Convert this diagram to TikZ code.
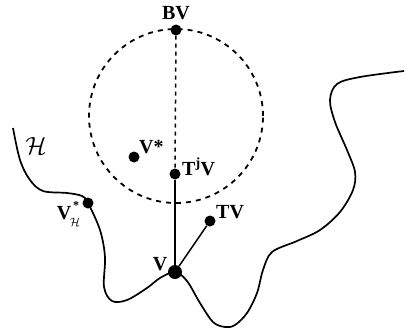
\documentclass[tikz,border=0pt]{standalone}
\usepackage{fontspec}
\setmainfont{Liberation Serif}
\begin{document}
\begin{tikzpicture}[x=1pt,y=-1pt,
  dot/.style={circle,fill=black,inner sep=0pt,minimum size=#1},
  dot/.default=11pt,
  lbl/.style={font=\fontsize{20}{20}\selectfont\bfseries,inner sep=0pt},
  small/.style={font=\fontsize{12}{12}\selectfont\bfseries,inner sep=0pt},
  ballstyle/.style={draw,circle,dash pattern=on 5pt off 5pt,line width=1.8pt,minimum size=174pt,inner sep=0pt},
  ray/.style={line width=1.5pt}]
\useasboundingbox (0,0) rectangle (406,330);
% dashed ball
\node[ballstyle] (ball) at (176,116) {};
% curve H
\coordinate (vh) at (88,203);
\coordinate (v) at (175,272);
\draw[line width=1.7pt] plot[smooth,tension=0.55] coordinates {
 (13,128) (20,160) (30,180) (43,191) (67,193) (82,196) (vh) (100,230) (105,257)
 (104,287) (112,301) (127,300) (147,288) (160,278) (v) (187,281) (200,303)
 (213,322) (225,327) (235,325) (247,313) (257,293) (263,270) (272,252) (297,241)
 (320,230) (340,212) (353,190) (355,172) (347,150) (335,122) (330,100) (337,84)
 (360,77) (404,71)};
% dots
\node[dot=14pt] (V) at (v) {};
\node[dot] (VH) at (vh) {};
\node[dot] (BV) at (176,30) {};
\node[dot] (TjV) at (175,174) {};
\node[dot] (Vs) at (134,157) {};
\node[dot] (TV) at (210,221) {};
% connectors
\draw[ray,dash pattern=on 4pt off 4pt] (BV) -- (TjV);
\draw[ray] (TjV) -- (V);
\draw[ray] (V) -- (TV);
% labels
\node[lbl] (lBV) at (176,13) {BV};
\node[lbl,anchor=west] (lVs) at (139,147) {V*};
\node[lbl,anchor=west] (lTjV) at (182,167) {T\textsuperscript{j}V};
\node[lbl,anchor=west] (lTV) at (216,212) {TV};
\node[lbl] (lV) at (160,264) {V};
\node[lbl] (lVH) at (64,213) {V};
\node[small] (lVHs) at (76,206) {*};
\node[small] (lVHsub) at (75,222) {$\mathcal{H}$};
\node[inner sep=0pt,font=\fontsize{24}{24}\selectfont] (lH) at (36,146) {$\mathcal{H}$};
\end{tikzpicture}
\end{document}
